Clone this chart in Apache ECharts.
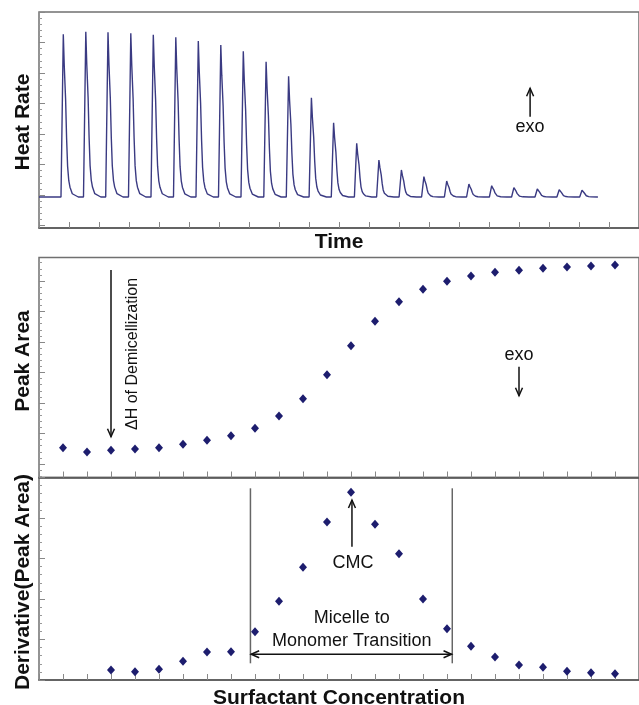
<!DOCTYPE html>
<html><head><meta charset="utf-8">
<script src="https://cdn.jsdelivr.net/npm/echarts@6/dist/echarts.min.js"></script>
<style>html,body{margin:0;padding:0;background:#fff;overflow:hidden}#c{width:639px;height:705px}</style>
</head><body><div id="c"></div>
<script>
// ---------- data ----------
// Top panel: injection peak times (time units) and peak heat-rate heights
const injectionTimes = [0.81,1.56,2.30,3.06,3.81,4.56,5.31,6.06,6.81,7.57,8.32,9.08,9.82,10.59,11.33,12.08,12.83,13.59,14.33,15.09,15.83,16.61,17.34,18.10];
const peakHeights = [193.7,196.3,195.7,194.7,193.3,190.7,187,183,176.7,166.3,151.7,130.3,105.3,84.7,68,58,51.3,47,44,42.3,40.3,39,38.3,37.7];
const heatBaseline = 31;
const timeEnd = 18.63;
// shape of one injection peak (offset from peak time, fraction of peak)
const peakShapeOffsets = [-0.077,0,0.033,0.077,0.11,0.143,0.183,0.223,0.3,0.5];
const peakShapeFractions = [0,1,0.8,0.6,0.36,0.19,0.1,0.06,0.02,0];

// Middle / bottom panels: injection number (surfactant concentration)
const concentration = [1,2,3,4,5,6,7,8,9,10,11,12,13,14,15,16,17,18,19,20,21,22,23,24];
const peakArea = [29.8,25.5,27.2,28.5,29.8,33.2,37.2,41.8,49.2,61.5,78.8,102.8,131.8,156.2,175.8,188.2,196.2,201.5,205.2,207.2,209.2,210.5,211.5,212.5];
const derivative = [null,null,10,8.3,10.7,18.7,28,28.3,48.3,78.7,112.7,158,187.7,155.7,126.3,81,51.3,33.7,23,15,12.7,8.7,7.3,6.3];

// ---------- build ----------
const heatData = [[0, heatBaseline]];
injectionTimes.forEach((t, i) => {
  peakShapeOffsets.forEach((d, j) => {
    heatData.push([t + d, heatBaseline + peakShapeFractions[j] * (peakHeights[i] - heatBaseline)]);
  });
});
heatData.push([timeEnd, heatBaseline]);
const areaData = concentration.map((c, i) => [c, peakArea[i]]);
const derivData = concentration.map((c, i) => [c, derivative[i]]).filter(p => p[1] != null);

const FONT = "'Liberation Sans', Arial, Helvetica, sans-serif";
const grids = [
  {left: 39, top: 12, width: 600, height: 216, ymax: 216, xmax: 20},
  {left: 39, top: 257.5, width: 600, height: 220, ymax: 220, xmax: 25},
  {left: 39, top: 477.5, width: 600, height: 202.5, ymax: 202.5, xmax: 25}
];
function seq(anchor, step, lo, hi) {
  const out = [];
  for (let v = anchor; v <= hi + 1e-6; v += step) if (v >= lo) out.push(+v.toFixed(3));
  for (let v = anchor - step; v >= lo - 1e-6; v -= step) out.push(+v.toFixed(3));
  return out.sort((a, b) => a - b);
}
const majorTicks = [seq(2.5, 30.5, 0, 216), seq(13.5, 30.5, 0, 220), seq(0, 40.5, 0, 202.5)];
const minorTicks = [seq(2.5, 6.1, 0, 216), seq(13.5, 6.1, 0, 220), seq(0, 8.1, 0, 202.5)];

const gridOpt = grids.map(g => ({left: g.left, top: g.top, width: g.width, height: g.height,
  show: true, borderColor: '#707070', borderWidth: 1.5, backgroundColor: 'transparent'}));
const xAxes = grids.map((g, i) => ({
  gridIndex: i, type: 'value', min: 0, max: g.xmax, interval: 1,
  axisLine: {show: true, lineStyle: {color: '#555', width: 1.5}},
  axisTick: {show: true, inside: true, length: 6, lineStyle: {color: '#888', width: 1}},
  axisLabel: {show: false}, splitLine: {show: false}
}));
const yAxes = [];
grids.forEach((g, i) => {
  yAxes.push({gridIndex: i, type: 'value', position: 'left', min: 0, max: g.ymax,
    axisLine: {show: false}, splitLine: {show: false}, axisLabel: {show: false},
    axisTick: {show: true, inside: true, length: 3, customValues: minorTicks[i], lineStyle: {color: '#999', width: 1}}});
  yAxes.push({gridIndex: i, type: 'value', position: 'left', min: 0, max: g.ymax,
    axisLine: {show: false}, splitLine: {show: false}, axisLabel: {show: false},
    axisTick: {show: true, inside: true, length: 6, customValues: majorTicks[i], lineStyle: {color: '#888', width: 1}}});
});

const chart = echarts.init(document.getElementById('c'));
chart.setOption({
  animation: false,
  grid: gridOpt, xAxis: xAxes, yAxis: yAxes,
  series: [
    {type: 'line', xAxisIndex: 0, yAxisIndex: 0, data: heatData, showSymbol: false, smooth: false,
     lineStyle: {color: '#3a3a82', width: 1.4}},
    {type: 'scatter', xAxisIndex: 1, yAxisIndex: 2, data: areaData, symbol: 'diamond', symbolSize: [8, 9],
     itemStyle: {color: '#1d1d6e', opacity: 1}},
    {type: 'scatter', xAxisIndex: 2, yAxisIndex: 4, data: derivData, symbol: 'diamond', symbolSize: [8, 9],
     itemStyle: {color: '#1d1d6e', opacity: 1}}
  ]
});

// ---------- annotations (placed in data coordinates) ----------
function px(gi, x, y) { return chart.convertToPixel({xAxisIndex: gi, yAxisIndex: gi * 2}, [x, y]); }
const els = [];
function text(p, str, font, rot) {
  els.push({type: 'text', x: p[0], y: p[1], rotation: rot || 0, z: 100,
    style: {text: str, font: font, fill: '#111', textAlign: 'center', textVerticalAlign: 'middle'}});
}
function line(a, b, color, w) {
  els.push({type: 'line', z: 100, shape: {x1: a[0], y1: a[1], x2: b[0], y2: b[1]},
    style: {stroke: color || '#111', lineWidth: w || 1.5}});
}
function head(tip, from) {
  const dx = tip[0] - from[0], dy = tip[1] - from[1];
  const L = Math.hypot(dx, dy), ux = dx / L, uy = dy / L;
  const len = 8, hw = 3.5;
  const bx = tip[0] - ux * len, by = tip[1] - uy * len;
  els.push({type: 'polyline', z: 100, shape: {points: [[bx - uy * hw, by + ux * hw], tip, [bx + uy * hw, by - ux * hw]]},
    style: {stroke: '#111', lineWidth: 1.5, fill: null}});
}
function arrow(a, b) { line(a, b); head(b, a); }

const TF = 'bold 21px ' + FONT, AF = '18px ' + FONT;
// axis titles
text([23, 122], 'Heat Rate', TF, Math.PI / 2);
text([339, 242], 'Time', TF);
text([23, 361], 'Peak Area', TF, Math.PI / 2);
text([23, 582], 'Derivative(Peak Area)', TF, Math.PI / 2);
text([339, 698], 'Surfactant Concentration', TF);

// top panel: exo arrow
arrow(px(0, 16.37, 111.3), px(0, 16.37, 139.7));
text(px(0, 16.37, 100.5), 'exo', AF);
// middle panel
arrow(px(1, 3.0, 207.5), px(1, 3.0, 40.8));
text(px(1, 3.88, 123.5), 'ΔH of Demicellization', '16px ' + FONT, Math.PI / 2);
text(px(1, 20.0, 122.5), 'exo', AF);
arrow(px(1, 20.0, 110.8), px(1, 20.0, 81.8));
// bottom panel
line(px(2, 8.81, 191.7), px(2, 8.81, 16.7), '#666', 1.5);
line(px(2, 17.22, 191.7), px(2, 17.22, 16.7), '#666', 1.5);
line(px(2, 8.84, 25.7), px(2, 17.19, 25.7));
head(px(2, 8.84, 25.7), px(2, 12, 25.7));
head(px(2, 17.19, 25.7), px(2, 12, 25.7));
text(px(2, 13.03, 62), 'Micelle to', AF);
text(px(2, 13.03, 38.5), 'Monomer Transition', AF);
text(px(2, 13.08, 117), 'CMC', AF);
arrow(px(2, 13.04, 133.3), px(2, 13.04, 180));

chart.setOption({graphic: {elements: els}});
</script>
</body></html>
